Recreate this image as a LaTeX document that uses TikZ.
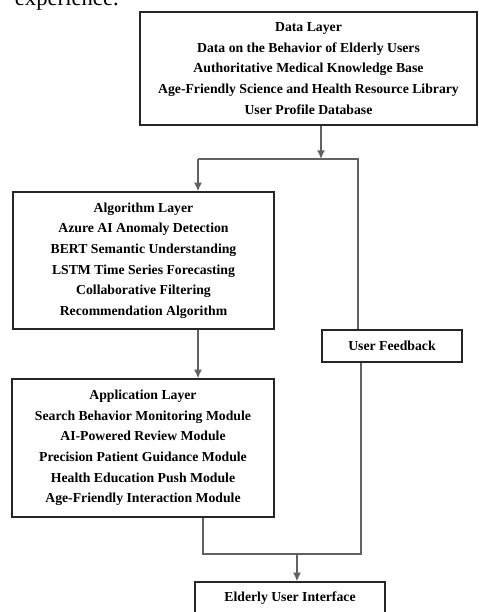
\documentclass[tikz,border=0pt]{standalone}
\usepackage{fontspec}
\setmainfont{Liberation Serif}
\usetikzlibrary{arrows.meta}
\tikzset{
    layer/.style={draw=black!85,line width=0.9pt,align=center,inner sep=0pt,
        font=\fontsize{10.3}{15.4}\selectfont\bfseries},
    conn/.style={draw=black!62,line width=1.3pt},
    tip/.style={-{Latex[length=6.5pt,width=6pt]}}
}
\begin{document}
\begin{tikzpicture}[x=0.75pt,y=-0.75pt]
    \useasboundingbox (0,0) rectangle (479,612);
    \node[anchor=base east,inner sep=0pt,font=\fontsize{17}{20}\selectfont] (prev) at (119,5) {experience.};
    \node[layer,minimum width=252.75pt,minimum height=84.75pt] (data) at (308.5,68.5)
        {Data Layer\\Data on the Behavior of Elderly Users\\Authoritative Medical Knowledge Base\\Age-Friendly Science and Health Resource Library\\User Profile Database};
    \node[layer,minimum width=195.75pt,minimum height=102.75pt] (alg) at (143.5,260.5)
        {Algorithm Layer\\Azure AI Anomaly Detection\\BERT Semantic Understanding\\LSTM Time Series Forecasting\\Collaborative Filtering\\Recommendation Algorithm};
    \node[layer,minimum width=196.5pt,minimum height=103.5pt] (app) at (143,448)
        {Application Layer\\Search Behavior Monitoring Module\\AI-Powered Review Module\\Precision Patient Guidance Module\\Health Education Push Module\\Age-Friendly Interaction Module};
    \node[layer,minimum width=105pt,minimum height=24pt] (fb) at (392,346) {User Feedback};
    \node[layer,minimum width=142.5pt,minimum height=24pt] (ui) at (290,598) {Elderly User Interface};
    % junction points
    \coordinate (split) at (321,159);
    \coordinate (lft) at (198,159);
    \coordinate (rgt) at (358,159);
    \coordinate (jl) at (203,554);
    \coordinate (jr) at (361,554);
    \coordinate (join) at (297,554);
    \draw[conn,tip] (split |- data.south) -- (split);
    \draw[conn] (lft) -- (rgt) -- (rgt |- fb.north);
    \draw[conn,tip] (lft) -- (lft |- alg.north);
    \draw[conn,tip] (lft |- alg.south) -- (lft |- app.north);
    \draw[conn] (jl |- app.south) -- (jl) -- (jr) -- (jr |- fb.south);
    \draw[conn,tip] (join) -- (join |- ui.north);
\end{tikzpicture}
\end{document}
